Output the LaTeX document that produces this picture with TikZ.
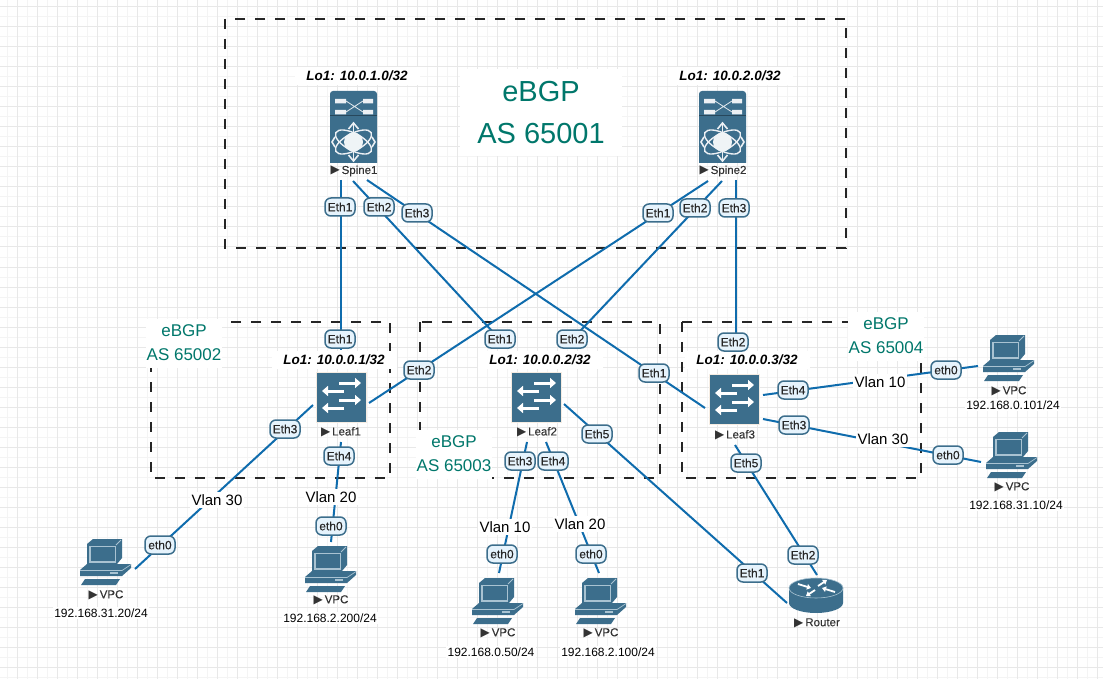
\documentclass[tikz,border=0pt]{standalone}
\usepackage{fontspec}
\setmainfont{Liberation Sans}
\newfontfamily\symfont{DejaVu Sans}
\newfontfamily\semifont[FakeBold=0.25]{Liberation Sans}
\usetikzlibrary{arrows.meta}
\definecolor{icon}{HTML}{3C6E8C}
\definecolor{iconlt}{HTML}{A9C3D2}
\definecolor{linkc}{HTML}{0F6CAD}
\definecolor{tealc}{HTML}{00776B}
\definecolor{chipf}{HTML}{E6F3FC}
\definecolor{gridA}{HTML}{E8E8E8}
\definecolor{gridB}{HTML}{F4F4F4}
\newcommand{\tri}{{\symfont\fontsize{12}{12}\selectfont ▶}\,}
\tikzset{
  link/.style={draw=linkc,line width=2pt},
  dbox/.style={draw=black!85,line width=1.2pt,dash pattern=on 10pt off 10pt},
  chip/.style={draw=icon,line width=1.5pt,fill=chipf,rounded corners=6pt,minimum width=30pt,minimum height=18pt,inner sep=0pt,font=\semifont\fontsize{12}{12}\selectfont,text=black!85},
  vlan/.style={fill=white,inner sep=2pt,font=\fontsize{15}{16}\selectfont,text=black},
  ipl/.style={fill=white,inner sep=1.5pt,font=\fontsize{12}{13}\selectfont,text=black},
  lo/.style={fill=white,minimum width=125pt,minimum height=18pt,inner sep=0pt,font=\fontsize{13.5}{14}\selectfont\bfseries\itshape,text=black},
  dev/.style={inner sep=0pt,font=\semifont\fontsize{11.5}{12}\selectfont,text=black!80},
  asl/.style={fill=white,align=center,inner sep=0pt,text=tealc,font=\fontsize{17}{24}\selectfont,minimum width=76pt,minimum height=49pt},
  asb/.style={fill=white,align=center,inner sep=0pt,text=tealc,font=\fontsize{29}{42}\selectfont,minimum width=162pt,minimum height=87pt},
  arw/.style={draw=white,line width=3pt,-{Triangle[length=6pt,width=10pt]}},
  pics/spineicon/.style={code={
    \fill[icon] (0,72) -- (0,3) arc[start angle=180,end angle=270,radius=3] -- (44,0) arc[start angle=270,end angle=360,radius=3] -- (47,72) -- cycle;
    \draw[black!35!icon,line width=1pt] (0,25) -- (47,25);
    \draw[white!85!icon,line width=0.8pt] (16,10) -- (33,21) (16,21) -- (33,10);
    \fill[white!90!icon] (5,8) rectangle (16,12.5) (33,8) rectangle (43,12.5) (5,19) rectangle (16,23.5) (33,19) rectangle (43,23.5);
    \draw[white!90!icon,line width=1.4pt] (23.5,51) ellipse[x radius=20,y radius=8.5,rotate=28];
    \draw[white!90!icon,line width=1.4pt] (23.5,51) ellipse[x radius=20,y radius=8.5,rotate=-28];
    \draw[white!90!icon,line width=1.4pt] (23.5,33) -- (23.5,69);
    \draw[white!90!icon,line width=1.6pt] (18.5,38) -- (23.5,32) -- (28.5,38) (18.5,64) -- (23.5,70) -- (28.5,64) (5,46) -- (2,51) -- (5,56) (42,46) -- (45,51) -- (42,56);
    \fill[white!92!icon] (23.5,51) circle[radius=9.5];
  }},
  pics/leaficon/.style={code={
    \fill[icon,draw=white!85!brown,line width=1pt] (0,0) rectangle (50,50);
    \draw[arw] (23,11) -- (45,11);
    \draw[arw] (28,19) -- (6,19);
    \draw[arw] (23,28) -- (45,28);
    \draw[arw] (28,36) -- (6,36);
  }},
  pics/pcicon/.style={code={
    \fill[icon] (7,6) -- (13,1) -- (42,1) -- (42,20) -- (37,26) -- (7,26) -- cycle;
    \fill[iconlt] (9,7.5) rectangle (36,24.5);
    \fill[icon] (10.5,9) rectangle (34.5,23);
    \draw[iconlt,line width=0.8pt] (36,7) -- (41,2);
    \fill[icon] (0,32) -- (7,26) -- (51,26) -- (51,30) -- (42,38) -- (0,38) -- cycle;
    \draw[iconlt,line width=0.7pt] (0,32.5) -- (42,32.5) -- (51,26.5);
    \fill[iconlt] (30,34) rectangle (38,36);
    \fill[icon] (5,41) -- (40,41) -- (36,47) -- (1,47) -- cycle;
  }},
  pics/routericon/.style={code={
    \fill[icon] (0,10) -- (0,25) arc[start angle=180,end angle=0,x radius=27,y radius=10] -- (54,10) -- cycle;
    \fill[icon,draw=iconlt,line width=0.6pt] (27,10) ellipse[x radius=27,y radius=10];
    \draw[white,line width=1.8pt,-{Triangle[length=4pt,width=5.5pt]}] (9,6) -- (22,10);
    \draw[white,line width=1.8pt,-{Triangle[length=4pt,width=5.5pt]}] (46,14) -- (33,10);
    \draw[white,line width=1.8pt,-{Triangle[length=4pt,width=5.5pt]}] (26,12) -- (17,18);
    \draw[white,line width=1.8pt,-{Triangle[length=4pt,width=5.5pt]}] (29,8) -- (38,2);
  }}
}
\begin{document}
\begin{tikzpicture}[x=1pt,y=-1pt]
\useasboundingbox (0,0) rectangle (1103,679);
\fill[white] (0,0) rectangle (1103,679);
% grid
\foreach \v in {7,27,...,1103} {\draw[gridB,line width=1pt] (\v,0) -- (\v,679);}
\foreach \v in {17,37,...,679} {\draw[gridB,line width=1pt] (0,\v) -- (1103,\v);}
\foreach \v in {17,37,...,1103} {\draw[gridA,line width=1pt] (\v,0) -- (\v,679);}
\foreach \v in {7,27,...,679} {\draw[gridA,line width=1pt] (0,\v) -- (1103,\v);}
% group boxes
\draw[dbox] (225,19) rectangle (846,248);
\draw[dbox] (151,322) rectangle (390,478);
\draw[dbox] (420,322) rectangle (660,478);
\draw[dbox] (682,322) rectangle (921,478);
% connector ends
\coordinate (s1a) at (341,180); \coordinate (l1a) at (341,350);
\coordinate (s1b) at (353,181); \coordinate (l2a) at (505,345);
\coordinate (s1c) at (367,180); \coordinate (l3a) at (705,408);
\coordinate (s2a) at (708,181); \coordinate (l1b) at (369,403);
\coordinate (s2b) at (722,181); \coordinate (l2b) at (565,347);
\coordinate (s2c) at (736,180); \coordinate (l3b) at (736,350);
\coordinate (l1c) at (313,405); \coordinate (p1a) at (135,569);
\coordinate (l1d) at (341,442); \coordinate (p2a) at (331,542);
\coordinate (l2c) at (527,442); \coordinate (p3a) at (499,573);
\coordinate (l2d) at (546,442); \coordinate (p4a) at (599,573);
\coordinate (l2e) at (564,404); \coordinate (r1a) at (787,603);
\coordinate (l3c) at (763,395); \coordinate (p5a) at (978,366);
\coordinate (l3d) at (763,419); \coordinate (p6a) at (981,462);
\coordinate (l3e) at (735,445); \coordinate (r1b) at (817,575);
% connectors
\draw[link] (s1a) -- (l1a);
\draw[link] (s1b) -- (l2a);
\draw[link] (s1c) -- (l3a);
\draw[link] (s2a) -- (l1b);
\draw[link] (s2b) -- (l2b);
\draw[link] (s2c) -- (l3b);
\draw[link] (l1c) -- (p1a);
\draw[link] (l1d) -- (p2a);
\draw[link] (l2c) -- (p3a);
\draw[link] (l2d) -- (p4a);
\draw[link] (l2e) -- (r1a);
\draw[link] (l3c) -- (p5a);
\draw[link] (l3d) -- (p6a);
\draw[link] (l3e) -- (r1b);
% AS labels
\node[asb] (as1) at (541,113) {eBGP\\AS 65001};
\node[asl] (as2) at (184,343) {eBGP\\AS 65002};
\node[asl] (as3) at (454,454) {eBGP\\AS 65003};
\node[asl] (as4) at (886,336) {eBGP\\AS 65004};
% loopbacks
\node[lo] (lo1) at (357,76) {Lo1: 10.0.1.0/32};
\node[lo] (lo2) at (730,76) {Lo1: 10.0.2.0/32};
\node[lo] (lo3) at (334,360) {Lo1: 10.0.0.1/32};
\node[lo] (lo4) at (540,360) {Lo1: 10.0.0.2/32};
\node[lo] (lo5) at (747,360) {Lo1: 10.0.0.3/32};
% icons
\pic at (330,91) {spineicon};
\pic at (699,91) {spineicon};
\pic at (316,372) {leaficon};
\pic at (511,372) {leaficon};
\pic at (709,374) {leaficon};
\pic at (80,538) {pcicon};
\pic at (305,545) {pcicon};
\pic at (472,577) {pcicon};
\pic at (575,577) {pcicon};
\pic at (983,334) {pcicon};
\pic at (986,431) {pcicon};
\pic at (789,578) {routericon};
% device names
\node[dev] (spineA) at (354,171) {\tri Spine1};
\node[dev] (spineB) at (723,171) {\tri Spine2};
\node[dev] (leafA) at (341,432) {\tri Leaf1};
\node[dev] (leafB) at (537,432) {\tri Leaf2};
\node[dev] (leafC) at (735,435) {\tri Leaf3};
\node[dev] (pcA) at (106,595) {\tri VPC};
\node[dev] (pcB) at (331,600) {\tri VPC};
\node[dev] (pcC) at (498,633) {\tri VPC};
\node[dev] (pcD) at (601,633) {\tri VPC};
\node[dev] (pcE) at (1009,391) {\tri VPC};
\node[dev] (pcF) at (1012,487) {\tri VPC};
\node[dev] (routerA) at (817,623) {\tri Router};
% addresses
\node[ipl] (ipA) at (101,613) {192.168.31.20/24};
\node[ipl] (ipB) at (330,618) {192.168.2.200/24};
\node[ipl] (ipC) at (491,652) {192.168.0.50/24};
\node[ipl] (ipD) at (608,652) {192.168.2.100/24};
\node[ipl] (ipE) at (1013,405) {192.168.0.101/24};
\node[ipl] (ipF) at (1016,505) {192.168.31.10/24};
% vlans
\node[vlan] (vA) at (217,500) {Vlan 30};
\node[vlan] (vB) at (331,497) {Vlan 20};
\node[vlan] (vC) at (505,527) {Vlan 10};
\node[vlan] (vD) at (580,524) {Vlan 20};
\node[vlan] (vE) at (880,382) {Vlan 10};
\node[vlan] (vF) at (883,439) {Vlan 30};
% interface chips
\node[chip] (c1) at (340,207) {Eth1};
\node[chip] (c2) at (379,207) {Eth2};
\node[chip] (c3) at (417,213) {Eth3};
\node[chip] (c4) at (658,213) {Eth1};
\node[chip] (c5) at (695,208) {Eth2};
\node[chip] (c6) at (734,208) {Eth3};
\node[chip] (c7) at (340,339) {Eth1};
\node[chip] (c8) at (419,370) {Eth2};
\node[chip] (c9) at (285,429) {Eth3};
\node[chip] (c10) at (339,456) {Eth4};
\node[chip] (c11) at (500,339) {Eth1};
\node[chip] (c12) at (572,339) {Eth2};
\node[chip] (c13) at (597,434) {Eth5};
\node[chip] (c14) at (520,461) {Eth3};
\node[chip] (c15) at (553,461) {Eth4};
\node[chip] (c16) at (654,373) {Eth1};
\node[chip] (c17) at (733,342) {Eth2};
\node[chip] (c18) at (793,390) {Eth4};
\node[chip] (c19) at (794,425) {Eth3};
\node[chip] (c20) at (746,463) {Eth5};
\node[chip] (c21) at (803,555) {Eth2};
\node[chip] (c22) at (752,573) {Eth1};
\node[chip] (c23) at (160,545) {eth0};
\node[chip] (c24) at (331,526) {eth0};
\node[chip] (c25) at (502,554) {eth0};
\node[chip] (c26) at (591,554) {eth0};
\node[chip] (c27) at (946,370) {eth0};
\node[chip] (c28) at (948,455) {eth0};
\end{tikzpicture}
\end{document}
